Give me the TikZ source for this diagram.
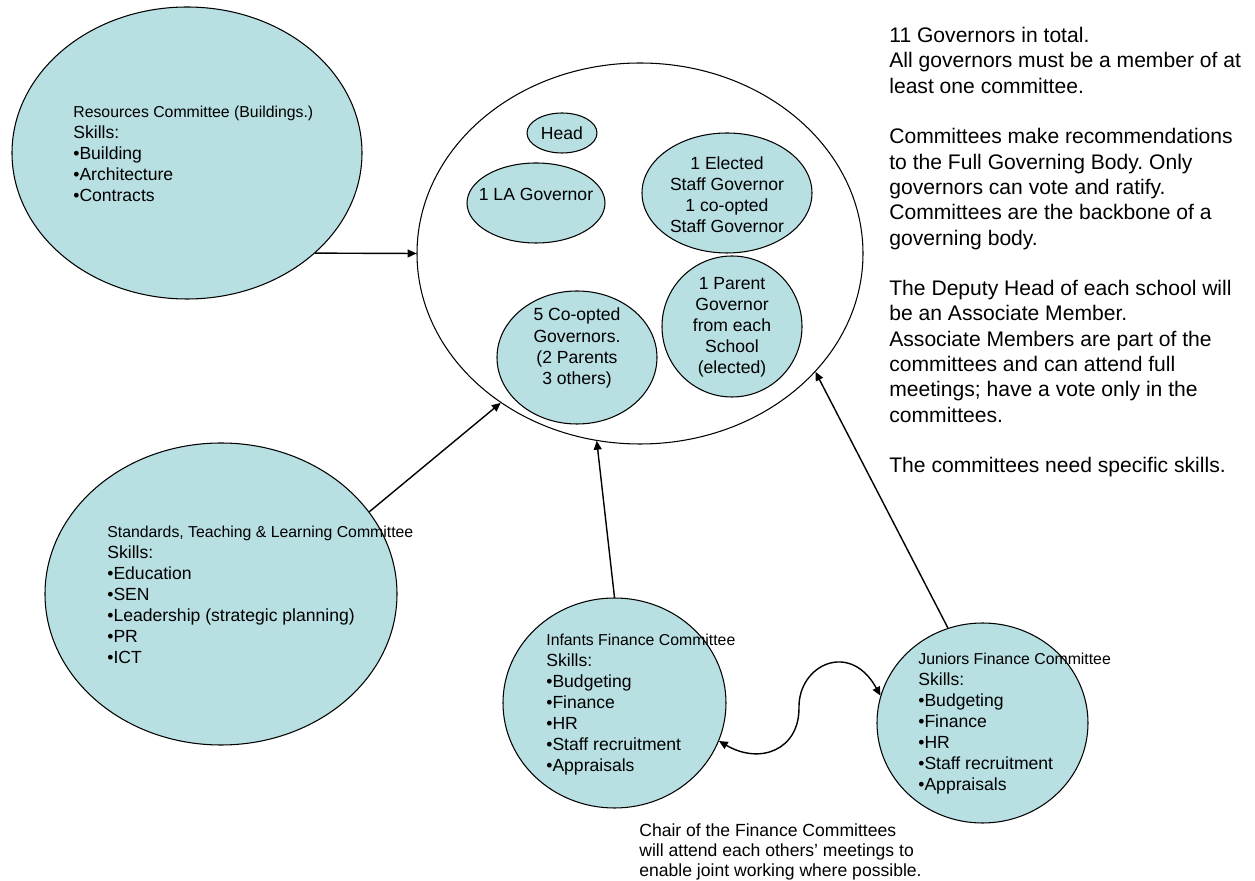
\documentclass[tikz,border=0pt]{standalone}
\usepackage{fontspec}
\setmainfont{Liberation Sans}
\usepackage{tikz}
\usetikzlibrary{shapes.geometric}
\usetikzlibrary{arrows.meta}
\frenchspacing

\definecolor{govfill}{RGB}{184,223,226}

\tikzset{
	comm/.style={ellipse, draw, fill=govfill, line width=0.6pt, inner sep=0pt},
	ctext/.style={align=left, anchor=north west, inner sep=0pt, font=\fontsize{10}{11.9}\selectfont},
	gtext/.style={align=center, inner sep=0pt, font=\fontsize{10}{12}\selectfont},
	note/.style={align=left, anchor=north west, inner sep=0pt},
	arr/.style={-{Triangle[length=5pt,width=4.5pt]}, line width=0.8pt},
	dbl/.style={{Triangle[length=5pt,width=4.5pt]}-{Triangle[length=5pt,width=4.5pt]}, line width=0.8pt}
}
\newcommand{\ctitle}[1]{{\fontsize{9}{11.9}\selectfont #1}}

\begin{document}
\begin{tikzpicture}
			
			\useasboundingbox (0,0) rectangle (25.1,-17.62);
			
			% full governing body
			\node[ellipse, draw, line width=0.6pt, inner sep=0pt, minimum width=8.92cm, minimum height=7.62cm] (gb) at (12.8,-5.07) {};
			\node[comm, minimum width=1.4cm, minimum height=0.8cm] (head) at (11.24,-2.66) {};
			\node[comm, minimum width=2.76cm, minimum height=1.6cm] (la) at (10.72,-4.06) {};
			\node[comm, minimum width=3.4cm, minimum height=2.4cm] (staff) at (14.54,-3.86) {};
			\node[comm, minimum width=2.8cm, minimum height=2.82cm] (parent) at (14.64,-6.53) {};
			\node[comm, minimum width=3.2cm, minimum height=2.66cm] (coopt) at (11.54,-7.15) {};
			
			\node[gtext] (head-t) at (11.24,-2.66) {Head};
			\node[gtext] (la-t) at (10.72,-3.88) {1 LA Governor};
			\node[gtext] (staff-t) at (14.54,-3.9) {1 Elected\\Staff Governor\\1 co-opted\\Staff Governor};
			\node[gtext] (parent-t) at (14.64,-6.55) {1 Parent\\Governor\\from each\\School\\(elected)};
			\node[gtext] (coopt-t) at (11.54,-6.96) {5 Co-opted\\Governors.\\(2 Parents\\3 others)};
			
			% committees
			\node[comm, minimum width=7cm, minimum height=5.84cm] (res) at (3.74,-3.06) {};
			\node[comm, minimum width=7.04cm, minimum height=6.04cm] (std) at (4.42,-11.88) {};
			\node[comm, minimum width=4.46cm, minimum height=4.2cm] (inf) at (12.29,-14.06) {};
			\node[comm, minimum width=4.22cm, minimum height=4cm] (jun) at (19.65,-14.46) {};
			
			\node[ctext] (res-t) at (1.46,-2.12) {\ctitle{Resources Committee (Buildings.)}\\Skills:\\\textbullet Building\\\textbullet Architecture\\\textbullet Contracts};
			\node[ctext] (std-t) at (2.14,-10.52) {\ctitle{Standards, Teaching \& Learning Committee}\\Skills:\\\textbullet Education\\\textbullet SEN\\\textbullet Leadership (strategic planning)\\\textbullet PR\\\textbullet ICT};
			\node[ctext] (inf-t) at (10.92,-12.68) {\ctitle{Infants Finance Committee}\\Skills:\\\textbullet Budgeting\\\textbullet Finance\\\textbullet HR\\\textbullet Staff recruitment\\\textbullet Appraisals};
			\node[ctext] (jun-t) at (18.36,-13.06) {\ctitle{Juniors Finance Committee}\\Skills:\\\textbullet Budgeting\\\textbullet Finance\\\textbullet HR\\\textbullet Staff recruitment\\\textbullet Appraisals};
			
			% arrows into the governing body
			\draw[arr] (res.-38) -- (gb.180);
			\draw[arr] (std.29) -- (gb.227);
			\draw[arr] (inf.north) -- (gb.257);
			\draw[arr] (jun.110) -- (gb.-34);
			\draw[dbl] (inf.-20) .. controls (15.2,-15.3) and (15.98,-15.0) .. (15.98,-14.16) .. controls (15.96,-13.3) and (17.0,-12.8) .. (jun.165);
			
			% notes
			\node[note, font=\fontsize{12}{14.4}\selectfont] (notes) at (17.78,-0.54) {11 Governors in total.\\All governors must be a member of at\\least one committee.\\[14.4pt]Committees make recommendations\\to the Full Governing Body. Only\\governors can vote and ratify.\\Committees are the backbone of a\\governing body.\\[14.4pt]The Deputy Head of each school will\\be an Associate Member.\\Associate Members are part of the\\committees and can attend full\\meetings; have a vote only in the\\committees.\\[14.4pt]The committees need specific skills.};
			\node[note, font=\fontsize{10}{11.4}\selectfont] (chair) at (12.78,-16.46) {Chair of the Finance Committees\\will attend each others’ meetings to\\enable joint working where possible.};
			
			\end{tikzpicture}
\end{document}
